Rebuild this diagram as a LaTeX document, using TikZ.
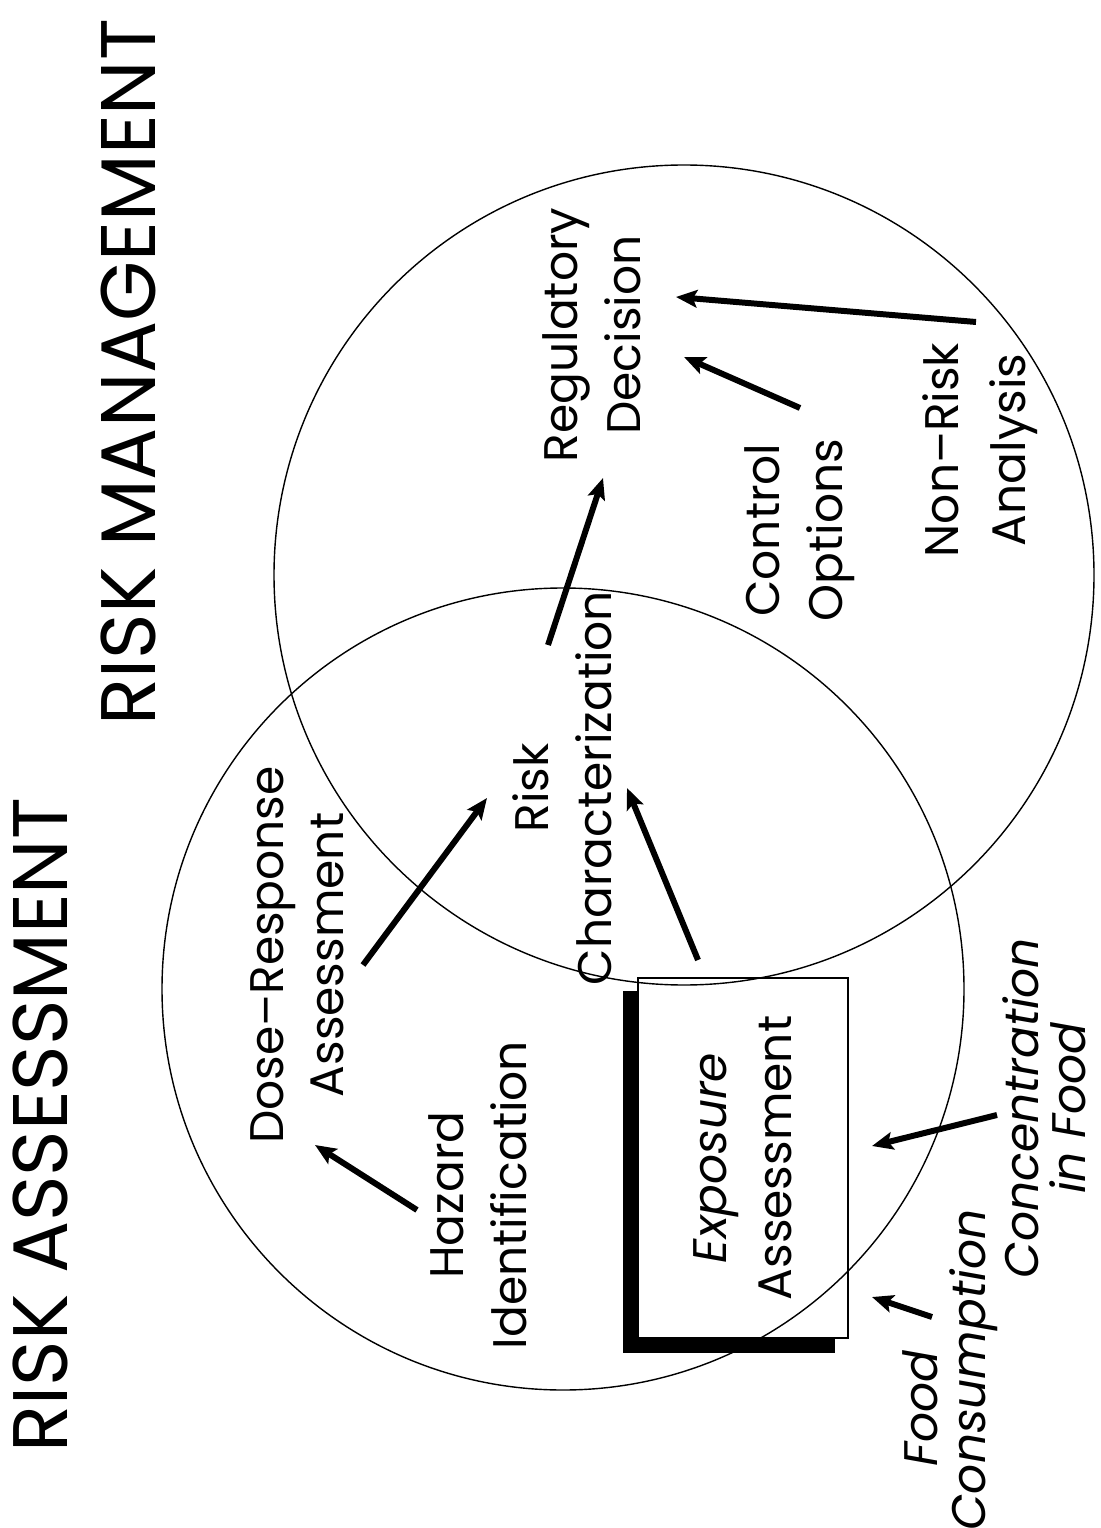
\documentclass[tikz,border=0pt]{standalone}
\usepackage{fontspec}
\setmainfont{Poppins}
\usetikzlibrary{arrows.meta, backgrounds}
\tikzset{>={Stealth[length=6pt,width=5pt,inset=1.2pt]}}

\begin{document}
\begin{tikzpicture}[x=0.01cm, y=-0.01cm,
		title/.style={rotate=90, font=\fontsize{22}{26}\selectfont},
		lbl/.style={rotate=90, align=center, font=\fontsize{13.4}{18}\selectfont},
		ital/.style={lbl, font=\fontsize{13.4}{13.5}\selectfont\itshape},
		arr/.style={->, line width=1.7pt}]
	\useasboundingbox (0,0) rectangle (1100,1528);
	\node[title] (ra) at (40,1125) {RISK ASSESSMENT};
	\node[title] (rm) at (128,372) {RISK MANAGEMENT};
	\node[lbl, draw, fill=white, line width=0.5pt, minimum width=3.6cm, minimum height=2.1cm, font=\fontsize{13.4}{18.5}\selectfont] (expo) at (743,1158) {\textit{Exposure}\\Assessment};
	\begin{scope}[on background layer]
		\fill ([shift={(-14,14)}]expo.south west) rectangle ([shift={(-14,14)}]expo.north east);
	\end{scope}
	\draw [line width=0.4pt] (563,989) circle[radius=401];
	\draw [line width=0.4pt] (684,575) circle[radius=410];
	\node[lbl] (haz) at (478,1195) {Hazard\\Identification};
	\node[lbl, font=\fontsize{13.4}{17}\selectfont] (dose) at (297,955) {Dose--Response\\Assessment};
	\node[lbl] (risk) at (562,788) {Risk\\Characterization};
	\node[lbl] (reg) at (592,335) {Regulatory\\Decision};
	\node[lbl] (ctrl) at (800,530) {Control\\Options};
	\node[lbl, font=\fontsize{13.4}{19}\selectfont] (nonrisk) at (980,450) {Non--Risk\\Analysis};
	\node[ital] (food) at (950,1370) {Food\hspace*{22pt}\\Consumption};
	\node[ital] (conc) at (1044,1108) {Concentration\\in Food};
	\draw[arr] ([shift={(-61,15)}]haz.center) -- ([shift={(18,190)}]dose.center);
	\draw[arr] ([shift={(66,10)}]dose.center) -- ([shift={(-75,10)}]risk.center);
	\draw[arr] ([shift={(-45,-198)}]expo.center) -- ([shift={(65,0)}]risk.center);
	\draw[arr] ([shift={(-14,-143)}]risk.center) -- ([shift={(11,143)}]reg.center);
	\draw[arr] ([shift={(0,-122)}]ctrl.center) -- ([shift={(92,22)}]reg.center);
	\draw[arr] ([shift={(-4,-128)}]nonrisk.center) -- ([shift={(84,-38)}]reg.center);
	\draw[arr] ([shift={(-47,7)}]conc.center) -- ([shift={(129,-12)}]expo.center);
	\draw[arr] ([shift={(-18,-53)}]food.center) -- ([shift={(129,139)}]expo.center);
\end{tikzpicture}
\end{document}
